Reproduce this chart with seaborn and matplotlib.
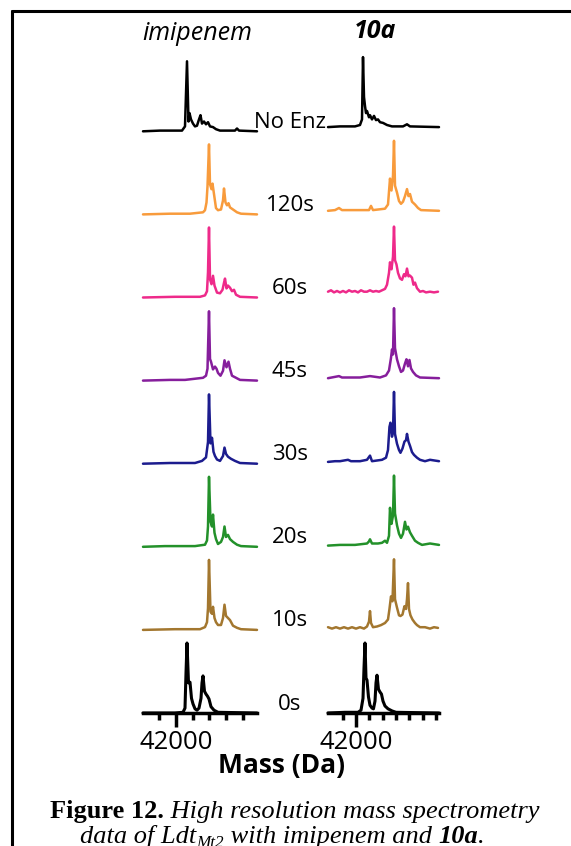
import matplotlib
matplotlib.use("Agg")
import pandas as pd
import matplotlib.pyplot as plt
import seaborn as sns
from matplotlib.lines import Line2D

# ---- data (intensity in % of the tallest peak) ----
row_labels = ["No Enz", "120s", "60s", "45s", "30s", "20s", "10s", "0s"]
row_colors = ["#000000", "#F89B3C", "#EE2A8A", "#861E9C", "#1C1C8E", "#23912A", "#A3772F", "#000000"]

# imipenem column
imi_noenz_mass = [41604, 41808, 41988, 42072, 42108, 42132, 42150, 42162, 42180, 42204, 42228, 42252, 42276, 42294,
                  42312, 42336, 42360, 42384, 42408, 42444, 42480, 42528, 42624, 42708, 42732, 42756, 42972]
imi_noenz_int = [0, 1, 1, 1, 7, 100, 14, 26, 17, 11, 7, 8, 17, 23, 11, 14, 10, 13, 7, 6, 3, 1, 1, 1, 4, 1, 0]
imi_120_mass = [41604, 41928, 42168, 42324, 42348, 42366, 42378, 42396, 42408, 42426, 42438, 42456, 42480, 42504,
                42540, 42564, 42576, 42594, 42612, 42630, 42648, 42684, 42732, 42780, 42972]
imi_120_int = [0, 1, 1, 3, 6, 17, 40, 100, 43, 36, 44, 29, 9, 6, 7, 20, 37, 17, 13, 16, 10, 7, 3, 1, 0]
imi_60_mass = [41604, 41988, 42288, 42348, 42372, 42384, 42396, 42408, 42426, 42444, 42462, 42492, 42528, 42558,
               42576, 42588, 42606, 42624, 42648, 42672, 42696, 42720, 42768, 42972]
imi_60_int = [0, 1, 1, 3, 9, 36, 100, 26, 19, 31, 17, 7, 6, 11, 21, 27, 13, 17, 14, 9, 11, 4, 1, 0]
imi_45_mass = [41604, 41928, 42108, 42324, 42360, 42378, 42396, 42408, 42420, 42444, 42468, 42486, 42504, 42534,
               42564, 42582, 42606, 42630, 42648, 42672, 42720, 42768, 42972]
imi_45_int = [0, 1, 1, 4, 7, 17, 99, 31, 27, 16, 20, 17, 11, 7, 14, 29, 19, 27, 17, 7, 4, 1, 0]
imi_30_mass = [41604, 41928, 42228, 42312, 42360, 42384, 42396, 42414, 42432, 42450, 42468, 42492, 42528, 42564,
               42582, 42600, 42624, 42660, 42708, 42768, 42972]
imi_30_int = [0, 1, 1, 4, 9, 31, 99, 29, 37, 17, 11, 6, 4, 11, 23, 14, 10, 7, 4, 1, 0]
imi_20_mass = [41604, 41868, 42228, 42348, 42372, 42384, 42396, 42414, 42432, 42444, 42462, 42480, 42504, 42540,
               42564, 42582, 42600, 42624, 42648, 42684, 42732, 42780, 42972]
imi_20_int = [0, 1, 1, 3, 9, 29, 100, 36, 29, 46, 20, 11, 4, 7, 14, 29, 14, 17, 11, 7, 3, 1, 0]
imi_10_mass = [41604, 41988, 42288, 42348, 42372, 42384, 42396, 42414, 42432, 42444, 42462, 42480, 42504, 42540,
               42564, 42582, 42600, 42624, 42648, 42684, 42732, 42780, 42972]
imi_10_int = [0, 1, 1, 4, 11, 31, 100, 26, 23, 33, 17, 11, 7, 7, 17, 36, 20, 17, 14, 6, 3, 1, 0]
imi_0_mass = [41604, 41988, 42084, 42108, 42120, 42132, 42150, 42168, 42186, 42204, 42228, 42252, 42276, 42300,
              42312, 42324, 42342, 42360, 42378, 42396, 42420, 42456, 42504, 42972]
imi_0_int = [0, 0, 1, 7, 57, 100, 43, 44, 21, 13, 6, 4, 7, 21, 43, 53, 31, 27, 24, 20, 9, 4, 1, 0]

# 10a column
c10a_noenz_mass = [41580, 41760, 41985, 42060, 42090, 42105, 42120, 42135, 42150, 42165, 42195, 42210, 42240, 42270,
                   42300, 42330, 42360, 42405, 42465, 42540, 42615, 42705, 42765, 42810, 43245]
c10a_noenz_int = [0, 1, 1, 3, 11, 100, 43, 30, 20, 23, 14, 17, 11, 16, 10, 11, 7, 6, 3, 1, 1, 1, 4, 1, 0]
c10a_120_mass = [41580, 41685, 41745, 41790, 42060, 42195, 42225, 42255, 42435, 42480, 42510, 42532, 42555, 42570,
                 42585, 42615, 42645, 42675, 42705, 42735, 42765, 42787, 42810, 42840, 42885, 42930, 42975, 43245]
c10a_120_int = [0, 1, 4, 1, 1, 1, 7, 1, 3, 9, 46, 29, 50, 100, 36, 26, 14, 10, 13, 21, 31, 21, 24, 13, 9, 4, 1, 0]
c10a_60_mass = [41580, 41625, 41670, 41715, 41760, 41805, 41850, 41895, 41940, 41985, 42030, 42075, 42120, 42165,
                42210, 42255, 42300, 42345, 42390, 42435, 42465, 42495, 42510, 42532, 42555, 42570, 42585, 42607,
                42630, 42660, 42690, 42720, 42742, 42765, 42787, 42810, 42840, 42862, 42885, 42915, 42960, 43005,
                43050, 43110, 43170, 43230]
c10a_60_int = [4, 6, 3, 5, 3, 5, 3, 6, 4, 5, 3, 6, 4, 4, 6, 4, 5, 4, 6, 8, 14, 31, 46, 36, 54, 97, 49, 43, 31, 23,
               21, 29, 26, 37, 26, 27, 24, 14, 17, 9, 4, 5, 3, 4, 3, 4]
c10a_45_mass = [41580, 41745, 41790, 42060, 42210, 42360, 42450, 42495, 42525, 42540, 42555, 42570, 42585, 42615,
                42645, 42675, 42705, 42735, 42757, 42780, 42802, 42825, 42855, 42900, 42960, 43245]
c10a_45_int = [0, 3, 1, 1, 3, 1, 4, 11, 29, 41, 34, 100, 43, 27, 17, 9, 11, 21, 27, 17, 26, 14, 9, 4, 1, 0]
c10a_30_mass = [41580, 41685, 41760, 41880, 41925, 42060, 42165, 42210, 42240, 42390, 42450, 42480, 42502, 42517,
                42540, 42555, 42570, 42585, 42615, 42645, 42667, 42697, 42727, 42750, 42765, 42787, 42810, 42840,
                42870, 42915, 42960, 43035, 43110, 43245]
c10a_30_int = [0, 1, 1, 3, 1, 1, 3, 9, 1, 3, 6, 17, 50, 56, 36, 43, 100, 40, 26, 17, 13, 19, 29, 31, 40, 29, 23, 14,
               10, 6, 3, 1, 3, 1]
c10a_20_mass = [41580, 41760, 41985, 42165, 42195, 42210, 42240, 42330, 42390, 42435, 42465, 42495, 42510, 42532,
                42555, 42570, 42585, 42615, 42645, 42675, 42705, 42735, 42757, 42780, 42810, 42840, 42885, 42930,
                42990, 43110, 43245]
c10a_20_int = [0, 1, 1, 3, 6, 9, 3, 3, 4, 7, 4, 14, 54, 31, 43, 100, 46, 29, 17, 11, 17, 34, 23, 27, 19, 14, 7, 4,
               1, 3, 1]
c10a_10_mass = [41580, 41640, 41700, 41760, 41820, 41880, 41940, 42000, 42060, 42120, 42165, 42195, 42210, 42225,
                42255, 42315, 42375, 42435, 42480, 42502, 42525, 42547, 42570, 42585, 42615, 42645, 42667, 42697,
                42727, 42750, 42765, 42780, 42795, 42817, 42847, 42885, 42915, 42960, 43035, 43110, 43170, 43230]
c10a_10_int = [3, 1, 3, 1, 3, 1, 3, 1, 3, 1, 4, 11, 26, 9, 3, 4, 6, 9, 14, 29, 47, 40, 100, 43, 31, 20, 19, 21, 33,
               29, 43, 66, 29, 20, 14, 9, 6, 3, 3, 1, 3, 2]
c10a_0_mass = [41580, 41835, 42030, 42075, 42105, 42120, 42135, 42150, 42165, 42187, 42210, 42240, 42262, 42285,
               42300, 42315, 42337, 42360, 42382, 42405, 42435, 42480, 42540, 42600, 43245]
c10a_0_int = [0, 1, 1, 4, 21, 64, 100, 50, 47, 23, 11, 7, 6, 17, 43, 54, 34, 30, 27, 17, 10, 6, 3, 1, 0]

imi_spectra = [(imi_noenz_mass, imi_noenz_int), (imi_120_mass, imi_120_int), (imi_60_mass, imi_60_int),
               (imi_45_mass, imi_45_int), (imi_30_mass, imi_30_int), (imi_20_mass, imi_20_int),
               (imi_10_mass, imi_10_int), (imi_0_mass, imi_0_int)]
c10a_spectra = [(c10a_noenz_mass, c10a_noenz_int), (c10a_120_mass, c10a_120_int), (c10a_60_mass, c10a_60_int),
                (c10a_45_mass, c10a_45_int), (c10a_30_mass, c10a_30_int), (c10a_20_mass, c10a_20_int),
                (c10a_10_mass, c10a_10_int), (c10a_0_mass, c10a_0_int)]

# ---- layout ----
W, H = 571, 846
px_per_unit = 0.7          # 100 % peak is ~70 px tall
axis_y = 713               # pixel row of the 0s baseline / x axis
top_y = 50
row_step = {"imi": 83.1, "10a": 83.7}

sns.set_style("ticks", {"axes.edgecolor": "black", "xtick.color": "black", "text.color": "black"})
plt.rcParams["font.family"] = ["Open Sans", "DejaVu Sans"]

fig = plt.figure(figsize=(W / 100, H / 100), dpi=100)
ax_l = fig.add_axes([143 / W, (H - axis_y) / H, 114 / W, (axis_y - top_y) / H])
ax_r = fig.add_axes([328 / W, (H - axis_y) / H, 111 / W, (axis_y - top_y) / H])

def draw_column(ax, spectra, step_px, xlim, minor):
    rows = []
    for i, (mass, inten) in enumerate(spectra):
        off = (len(spectra) - 1 - i) * step_px / px_per_unit
        for m, v in zip(mass, inten):
            rows.append({"row": i, "mass": m, "y": v + off})
    df = pd.DataFrame(rows)
    for i in range(len(spectra)):
        lw = 2.2 if i == len(spectra) - 1 else 1.8
        sns.lineplot(data=df[df["row"] == i], x="mass", y="y", color=row_colors[i], lw=lw,
                     estimator=None, sort=False, ax=ax, clip_on=False)
    ax.set_xlim(*xlim)
    ax.set_ylim(0, (axis_y - top_y) / px_per_unit)
    ax.set_xlabel("")
    ax.set_ylabel("")
    ax.set_yticks([])
    ax.set_xticks([42000])
    ax.set_xticklabels(["42000"])
    ax.set_xticks(minor, minor=True)
    for s in ["top", "right", "left"]:
        ax.spines[s].set_visible(False)
    ax.spines["bottom"].set_linewidth(2.5)
    ax.tick_params(axis="x", which="major", bottom=True, length=10, width=2.5, pad=2, labelsize=18.5)
    ax.tick_params(axis="x", which="minor", bottom=True, length=5, width=2.5)

draw_column(ax_l, imi_spectra, row_step["imi"], (41604, 42972), [41800, 42200, 42400, 42600, 42800])
draw_column(ax_r, c10a_spectra, row_step["10a"], (41580, 43245),
            [41800, 42200, 42400, 42600, 42800, 43000, 43200])

# row labels between the columns
for i, lab in enumerate(row_labels):
    base_px = axis_y - (len(row_labels) - 1 - i) * row_step["imi"]
    fig.text(290 / W, 1 - (base_px - 9) / H, lab, ha="center", va="center", fontsize=16)

# column headers and axis title
fig.text(197 / W, 1 - 33 / H, "imipenem", ha="center", va="center", fontsize=18, style="italic")
fig.text(375 / W, 1 - 32 / H, "10a", ha="center", va="center", fontsize=18, style="italic", weight="bold")
fig.text(282 / W, 1 - 765 / H, "Mass (Da)", ha="center", va="center", fontsize=19, weight="bold")

# caption, built from pieces so the styles can change mid-line
serif = "Liberation Serif"

def chain(x, y, pieces):
    first = fig.text(x, y, pieces[0][0], va="baseline", ha="left", family=serif, **pieces[0][1])
    prev = first
    for s, kw in pieces[1:]:
        kw = dict(kw)
        dy = kw.pop("dy", 0)
        prev = ax_l.annotate(s, xy=(1, 0), xycoords=(prev, first), xytext=(0, dy),
                             textcoords="offset points", va="bottom", ha="left",
                             family=serif, annotation_clip=False, **kw)

cap = 19
chain(50 / W, 1 - 818 / H, [("Figure 12.", dict(fontsize=cap, weight="bold")),
                            (" High resolution mass spectrometry", dict(fontsize=cap, style="italic"))])
chain(80 / W, 1 - 843 / H, [("data of Ldt", dict(fontsize=cap, style="italic")),
                            ("Mt2", dict(fontsize=cap * 0.65, style="italic", dy=-2)),
                            (" with imipenem and ", dict(fontsize=cap, style="italic")),
                            ("10a", dict(fontsize=cap, style="italic", weight="bold")),
                            (".", dict(fontsize=cap, style="italic"))])

# page frame visible at the left and top edge
fig.add_artist(Line2D([12 / W, 12 / W], [0, 1 - 11 / H], transform=fig.transFigure, color="black", lw=2.2))
fig.add_artist(Line2D([12 / W, 1], [1 - 11 / H, 1 - 11 / H], transform=fig.transFigure, color="black", lw=2.2))

fig.savefig("out.png", dpi=100)
